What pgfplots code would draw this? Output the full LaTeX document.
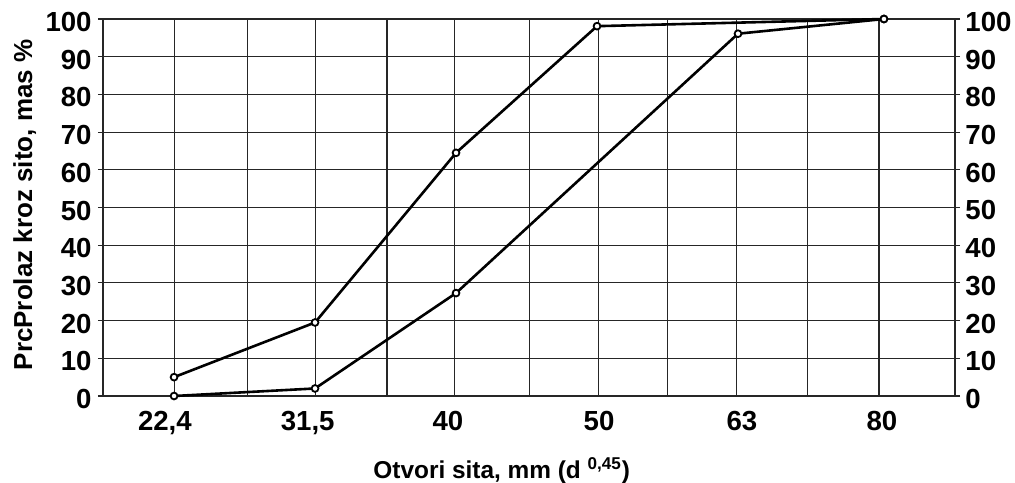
\documentclass[border=0pt]{standalone}
\usepackage{fontspec}
\setmainfont{Liberation Sans}
\usepackage{pgfplots}
\pgfplotsset{compat=1.18}

\pgfplotsset{
  sieve/.style={
    scale only axis, width=426pt, height=188.5pt,
    xmin=-0.504, xmax=5.539, ymin=0, ymax=100,
    ytick={0,10,...,100},
    tick align=outside, major tick length=2.5pt,
    /pgf/number format/assume math mode=true,
    ticklabel style={font=\fontsize{13.8}{16}\selectfont\bfseries, inner sep=0pt},
    axis line style={black!85, line width=0.55pt},
    every tick/.style={black!85, line width=0.55pt},
  },
}

\begin{document}
\begin{tikzpicture}
\useasboundingbox (-51.5pt,-43pt) rectangle (456pt,198pt);
\begin{axis}[
  sieve,
  xtick={-0.065,0.948,1.943,3.014,4.028,5.021},
  xticklabels={{22,4},{31,5},40,50,63,80},
  minor xtick={0,0.52,1,1.51,1.99,2.52,3.01,3.5,3.99,4.49,5},
  xminorgrids=true, ymajorgrids=true,
  grid style={black!85, line width=0.55pt},
  minor grid style={black!85, line width=0.55pt},
  major x tick style={draw=none}, minor x tick style={draw=none},
  ytick pos=left,
  xticklabel style={anchor=north, yshift=-5pt},
  yticklabel style={anchor=east, xshift=-3pt, yshift=-1.5pt},
  xlabel={Otvori sita, mm (d \textsuperscript{0,45})},
  xlabel style={font=\fontsize{12.2}{14}\selectfont\bfseries,
    at={(axis description cs:0.468,-0.2175)}, anchor=base},
  ylabel={PrcProlaz kroz sito, mas \%},
  ylabel style={font=\fontsize{13}{15}\selectfont\bfseries,
    at={(axis description cs:-0.0833,0.507)}, anchor=base},
  clip=false,
]
% gornja granica
\addplot[black, line width=1.3pt, mark=*, mark size=1.7pt,
  mark options={draw=black, fill=white, line width=0.9pt}]
  coordinates {(0,5) (1,19.5) (2,64.5) (3,98.1) (5.035,100)};
% donja granica
\addplot[black, line width=1.3pt, mark=*, mark size=1.7pt,
  mark options={draw=black, fill=white, line width=0.9pt}]
  coordinates {(0,0) (1,2) (2,27.3) (4,96.1) (5.035,100)};
\end{axis}
\begin{axis}[
  sieve,
  axis y line*=right, axis x line=none,
  yticklabel style={anchor=west, xshift=2.5pt, yshift=-1.5pt},
]
\end{axis}
\end{tikzpicture}
\end{document}
